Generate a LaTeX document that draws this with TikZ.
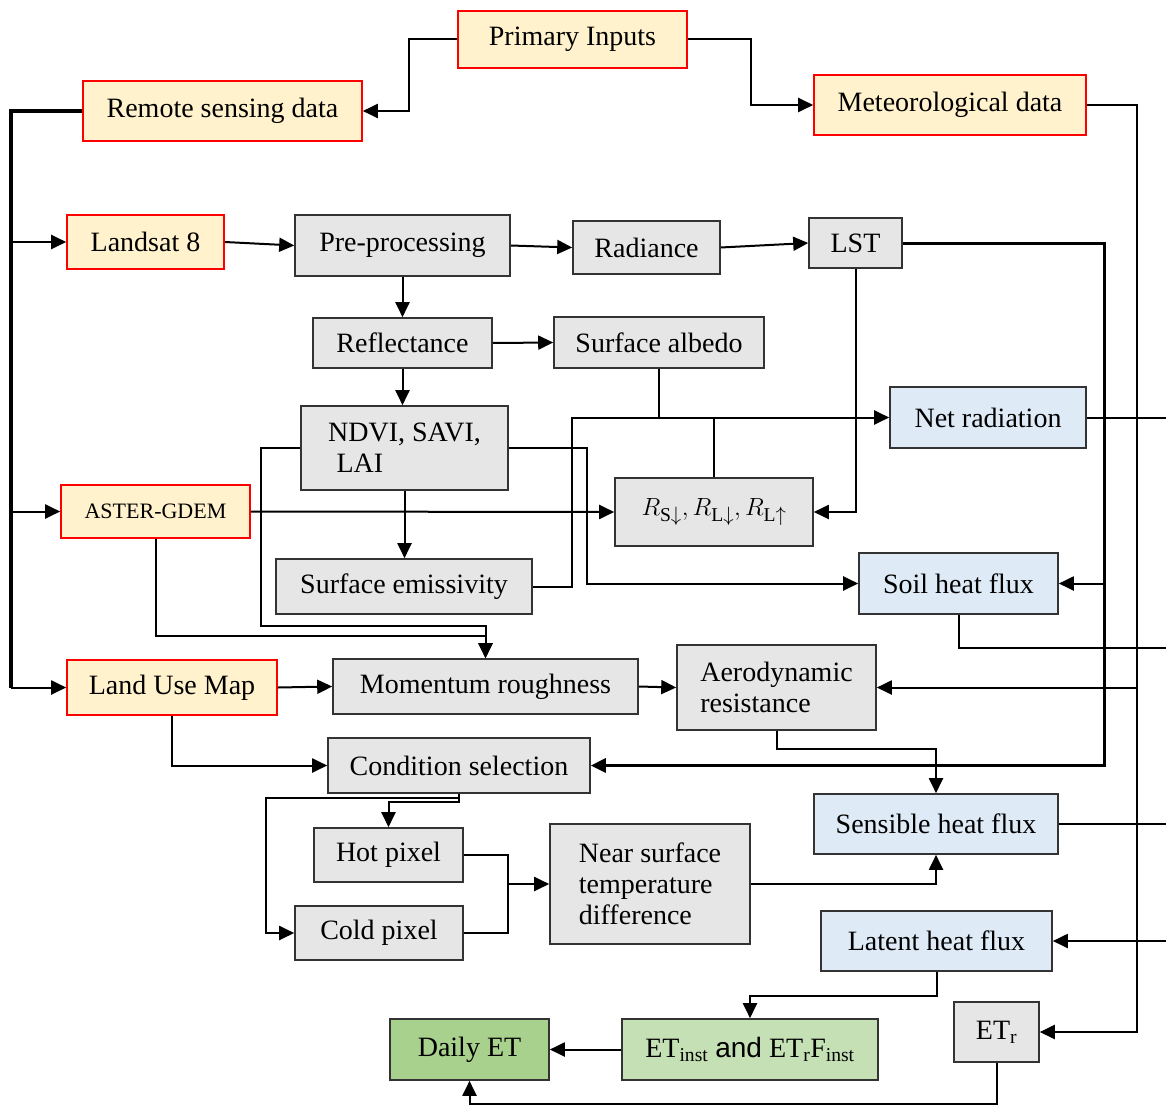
\documentclass[tikz,border=0pt]{standalone}
\usepackage{fontspec}
\setmainfont{Liberation Serif}
\setsansfont{Liberation Sans}
\usetikzlibrary{arrows.meta}
\definecolor{inputfill}{HTML}{FFF2CC}
\definecolor{procfill}{HTML}{E6E6E6}
\definecolor{fluxfill}{HTML}{DEEBF7}
\definecolor{etfill}{HTML}{C5E0B4}
\definecolor{dailyfill}{HTML}{A9D18E}
\definecolor{boxline}{HTML}{333333}

\begin{document}
\begin{tikzpicture}[x=1pt,y=-1pt,
  font=\fontsize{28}{31}\selectfont,
  box/.style={draw=boxline, line width=1.6pt, inner sep=0pt, align=center},
  sz/.style 2 args={minimum width=#1pt, minimum height=#2pt},
  inbox/.style={box, draw=red, fill=inputfill},
  procbox/.style={box, fill=procfill},
  fluxbox/.style={box, fill=fluxfill},
  etbox/.style={box, fill=etfill},
  dailybox/.style={box, fill=dailyfill},
  ln/.style={line width=2pt},
  bus/.style={line width=3.2pt},
  arr/.style={ln, -{Triangle[length=15pt,width=14pt]}}]
\useasboundingbox (0,0) rectangle (1166,1105);
% inputs
\node[inbox, sz={229}{57}] (prim) at (572.5,39.5) {Primary Inputs};
\node[inbox, sz={279}{60}] (remote) at (222.5,111) {Remote sensing data};
\node[inbox, sz={272}{60}] (meteo) at (950,105) {Meteorological data};
\node[inbox, sz={157}{54}] (landsat) at (145.5,242) {Landsat 8};
\node[inbox, sz={189}{53}, font=\fontsize{22}{26}\selectfont] (aster) at (155.5,511.5) {ASTER-GDEM};
\node[inbox, sz={210}{55}] (landuse) at (172,687.5) {Land Use Map};
% processing
\node[procbox, sz={215}{61}] (prep) at (402.5,245.5) {Pre-processing};
\node[procbox, sz={147}{53}] (rad) at (646.5,247.5) {Radiance};
\node[procbox, sz={93}{50}] (lst) at (855.5,243) {LST};
\node[procbox, sz={179}{50}] (refl) at (402.5,343) {Reflectance};
\node[procbox, sz={210}{51}] (albedo) at (659,342.5) {Surface albedo};
\node[procbox, sz={207}{84}, align=left] (ndvi) at (404.5,448) {NDVI, SAVI,\\\hspace{0.3em}LAI};
\node[procbox, sz={198}{68}] (rbox) at (714,512) {$R_{\mathrm{S}\downarrow}, R_{\mathrm{L}\downarrow}, R_{\mathrm{L}\uparrow}$};
\node[procbox, sz={256}{55}] (emis) at (404,586.5) {Surface emissivity};
\node[procbox, sz={305}{55}] (momentum) at (485.5,686.5) {Momentum roughness};
\node[procbox, sz={199}{85}, align=left] (aero) at (776.5,687.5) {Aerodynamic\\resistance};
\node[procbox, sz={262}{55}] (cond) at (459,765.5) {Condition selection};
\node[procbox, sz={149}{54}] (hot) at (388.5,855) {Hot pixel};
\node[procbox, sz={168}{54}] (cold) at (379,933) {Cold pixel};
\node[procbox, sz={200}{120}, align=left] (near) at (650,884) {Near surface\\temperature\\difference};
\node[procbox, sz={85}{60}] (etr) at (996.5,1032) {ET\textsubscript{r}};
% fluxes
\node[fluxbox, sz={196}{61}] (netrad) at (988,417.5) {Net radiation};
\node[fluxbox, sz={199}{61}] (soil) at (958.5,583.5) {Soil heat flux};
\node[fluxbox, sz={244}{60}] (sensible) at (936,824) {Sensible heat flux};
\node[fluxbox, sz={231}{60}] (latent) at (936.5,941) {Latent heat flux};
% outputs
\node[etbox, sz={256}{61}] (etinst) at (750,1049.5) {ET\textsubscript{inst} {\sffamily and} ET\textsubscript{r}F\textsubscript{inst}};
\node[dailybox, sz={159}{61}] (daily) at (469.5,1049.5) {Daily ET};
% buses
\coordinate (lbus) at (11,0);
\coordinate (mbus) at (1104,0);
\coordinate (rbus) at (1137,0);
\coordinate (edge) at (1166,0);
\draw[arr] (prim.west) -- ++(-48,0) |- (remote.east);
\draw[arr] (prim.east) -- ++(63,0) |- (meteo.west);
\draw[bus] (remote.west) -| (lbus |- landuse.west);
\draw[arr] (lbus |- landsat.west) -- (landsat.west);
\draw[arr] (lbus |- aster.west) -- (aster.west);
\draw[arr] (lbus |- landuse.west) -- (landuse.west);
\draw[arr, line width=2.4pt] (meteo.east) -| (rbus |- etr.east) -- (etr.east);
\draw[arr] (rbus |- aero.east) -- (aero.east);
\draw[arr, line width=3pt] (lst.east) -| (mbus |- cond.east) -- (cond.east);
\draw[arr] (mbus |- soil.east) -- (soil.east);
% landsat chain
\draw[arr] (landsat.east) -- (prep.west);
\draw[arr] (prep.east) -- (rad.west);
\draw[arr] (rad.east) -- (lst.west);
\draw[arr] (prep.south) -- (refl.north);
\draw[arr] (refl.east) -- (albedo.west);
\draw[arr] (refl.south) -- (refl.south |- ndvi.north);
\draw[arr] (ndvi.south) -- (ndvi.south |- emis.north);
\draw[arr] (lst.south) |- (rbox.east);
\draw[arr] (aster.east) -- (rbox.west);
% radiation
\draw[arr] (emis.east) -- ++(39,0) |- (netrad.west);
\draw[ln] (albedo.south) -- (albedo.south |- netrad.west);
\draw[ln] (rbox.north) -- (rbox.north |- netrad.west);
\draw[arr] (ndvi.east) -- ++(78,0) |- (soil.west);
\draw[arr] (ndvi.west) -- ++(-39,0) -- ++(0,178) -| (momentum.north);
\draw[arr] (aster.south) -- ++(0,97) -| (momentum.north);
% to the right edge
\draw[ln] (netrad.east) -- (netrad.east -| edge);
\draw[ln] (soil.south) -- ++(0,33) coordinate (s1) -- (s1 -| edge);
\draw[ln] (sensible.east) -- (sensible.east -| edge);
\draw[arr] (latent.east -| edge) -- (latent.east);
% roughness and pixels
\draw[arr] (landuse.east) -- (momentum.west);
\draw[arr] (landuse.south) |- (cond.west);
\draw[arr] (momentum.east) -- (aero.west);
\draw[arr] (aero.south) -- ++(0,18) -| (sensible.north);
\draw[arr] (cond.south) -- ++(0,8) -| (hot.north);
\draw[arr] (cond.south) -- ++(0,4) -- ++(-193,0) |- (cold.west);
\draw[ln] (hot.east) -- ++(44,0) coordinate (hc) |- (cold.east);
\draw[arr] (hc |- near.west) -- (near.west);
\draw[arr] (near.east) -| (sensible.south);
% ET
\draw[arr] (latent.south) -- ++(0,24) -| (etinst.north);
\draw[arr] (etinst.west) -- (daily.east);
\draw[arr] (etr.south) -- ++(0,41) -| (daily.south);
\end{tikzpicture}
\end{document}
